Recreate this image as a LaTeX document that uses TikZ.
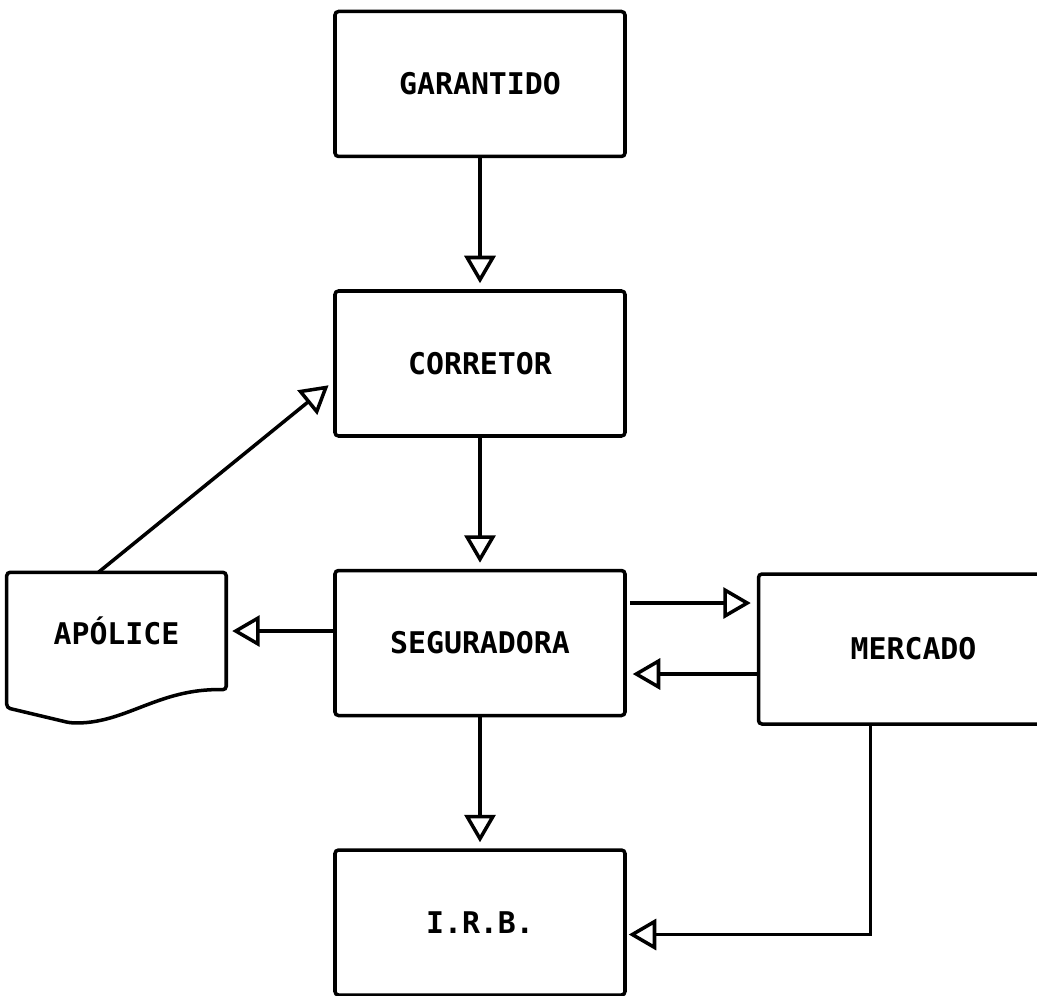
\documentclass[tikz,border=0pt]{standalone}
\usepackage{fontspec}
\setmonofont{DejaVu Sans Mono}
\usepackage{tikz}
\usetikzlibrary{arrows.meta, positioning, calc}
\tikzset{
    flowchart/.style={>={Triangle[open, length=0.55cm, width=0.62cm]}, line width=2pt,
        font=\ttfamily\bfseries\fontsize{17}{20}\selectfont, node distance=2.62cm and 2.6cm},
    box/.style={draw, rounded corners=2pt, minimum width=5.8cm, minimum height=2.9cm, align=center},
    % the document node gets its outline drawn separately (wavy bottom)
    docbox/.style={minimum width=4.32cm, minimum height=2.28cm, inner sep=0pt},
    flow/.style={->, shorten >=0.12cm},
}
\begin{document}
\begin{tikzpicture}[flowchart]
    \useasboundingbox (0,0) rectangle (20.74,19.92);
    \node[box]                                        (garantido)  at (9.6,18.24) {GARANTIDO};
    \node[box, below=of garantido]                    (corretor)   {CORRETOR};
    \node[box, below=of corretor]                     (seguradora) {SEGURADORA};
    \node[box, below=of seguradora]                   (irb)        {I.R.B.};
    \node[box, right=of seguradora, yshift=-0.12cm, minimum height=3cm] (mercado) {\hspace*{0.4cm}MERCADO};
    \node[docbox, left=2.14cm of seguradora, yshift=0.24cm] (apolice) {APÓLICE};

    \draw[rounded corners=2pt] (apolice.north west) -- (apolice.north east) -- (apolice.south east)
        .. controls +(-1.36,0.04) and +(1.1,-0.04) .. ([shift={(1.26,-0.66)}]apolice.south west)
        -- ([yshift=-0.36cm]apolice.south west) -- cycle;

    \draw[flow] (garantido) -- (corretor);
    \draw[flow] (corretor) -- (seguradora);
    \draw[flow] (seguradora) -- (irb);
    \draw[flow] (seguradora.west |- apolice.east) -- (apolice.east);
    \draw[flow] ([xshift=-0.36cm]apolice.north) -- ([yshift=-0.36cm]corretor.west);
    \draw[flow, shorten <=0.06cm] ([yshift=0.8cm]seguradora.east) -- ([yshift=0.8cm]seguradora.east -| mercado.west);
    \draw[flow] ([yshift=-0.62cm]seguradora.east -| mercado.west) -- ([yshift=-0.62cm]seguradora.east);
    \draw[flow, shorten >=0.04cm] ([xshift=-0.66cm]mercado.south) |- ([yshift=-0.24cm]irb.east);
\end{tikzpicture}
\end{document}
